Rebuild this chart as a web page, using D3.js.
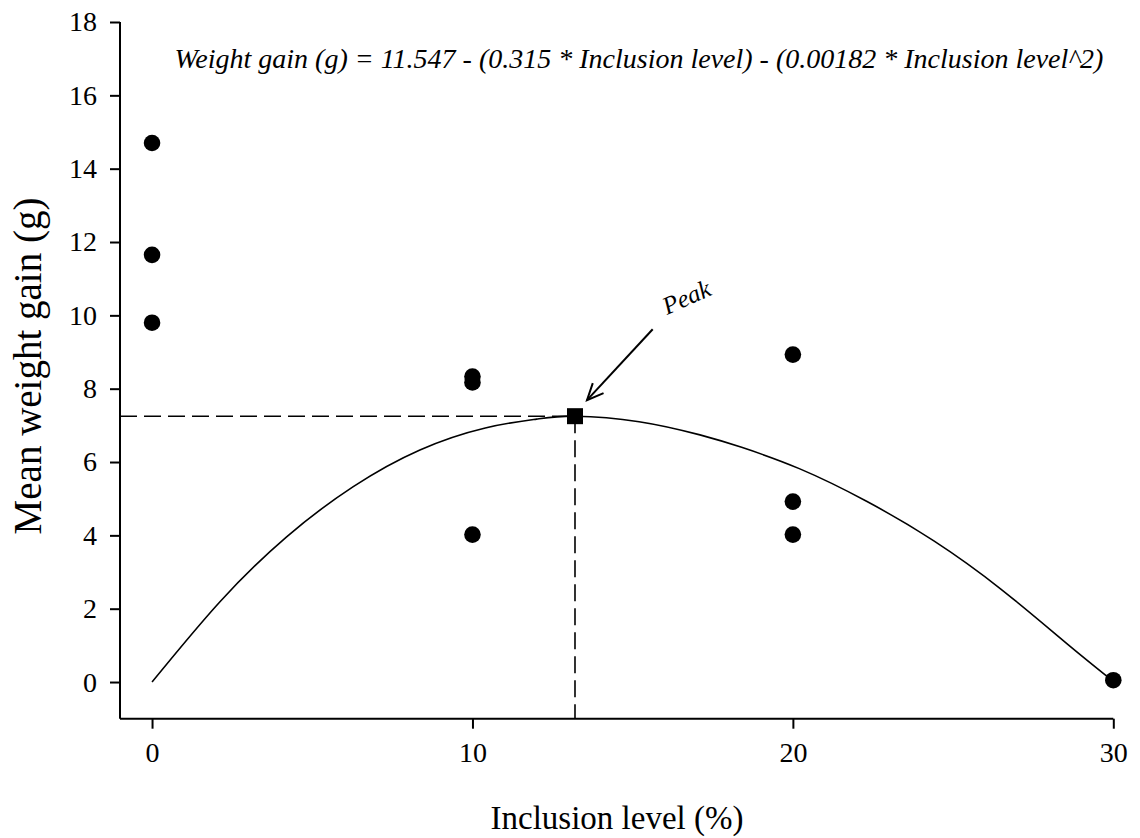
<!DOCTYPE html>
<html>
<head>
<meta charset="utf-8">
<script src="https://cdn.jsdelivr.net/npm/d3@7/dist/d3.min.js"></script>
<style>
  body { margin: 0; background: #fff; }
  svg { display: block; }
  text { font-family: "Liberation Serif", "Times New Roman", serif; fill: #000; }
</style>
</head>
<body>
<svg id="chart" width="1140" height="838"></svg>
<script>
// ---- data ----
const inclusionLevels = [0, 0, 0, 10, 10, 10, 20, 20, 20, 30];
const weightGains     = [14.7, 11.65, 9.8, 8.33, 8.17, 4.02, 8.93, 4.92, 4.02, 0.05];
const fitX = [0, 2.12, 4.2, 6.28, 8.36, 10.4, 12.0, 13.2, 15.2, 17.1, 18.4, 20.2, 22.3, 24.4, 26.5, 28.55, 30];
const fitY = [0, 2.19, 3.96, 5.33, 6.33, 6.93, 7.17, 7.25, 7.10, 6.74, 6.40, 5.82, 4.93, 3.85, 2.53, 1.05, 0.02];
const peakX = 13.2, peakY = 7.25;
const xTicks = [0, 10, 20, 30];
const yTicks = [0, 2, 4, 6, 8, 10, 12, 14, 16, 18];
const equationText = "Weight gain (g) = 11.547 - (0.315 * Inclusion level) - (0.00182 * Inclusion level^2)";
const xTitle = "Inclusion level (%)";
const yTitle = "Mean weight gain (g)";
const peakLabel = "Peak";

// ---- scales ----
const svg = d3.select("#chart");
const x = d3.scaleLinear().domain([-1, 30]).range([120, 1113.3]);
const y = d3.scaleLinear().domain([-1, 18]).range([718.7, 22]);

// axes
const xAxis = d3.axisBottom(x).tickValues(xTicks).tickSize(10).tickSizeOuter(0).tickPadding(13);
const yAxis = d3.axisLeft(y).tickValues(yTicks).tickSize(10).tickSizeOuter(0).tickPadding(13);

const gx = svg.append("g").attr("transform", `translate(0,${y(-1)})`).call(xAxis);
const gy = svg.append("g").attr("transform", `translate(${x(-1)},0)`).call(yAxis);
[gx, gy].forEach(g => {
  g.attr("font-family", null).attr("font-size", null);
  g.selectAll("path, line").attr("stroke", "#000").attr("stroke-width", 2);
  g.selectAll("text").attr("font-size", 28).style("font-size", "28px");
});
gx.select(".domain").attr("d", `M${x(-1)},0H${x(30)}`);
gy.select(".domain").attr("d", `M0,${y(-1)}V${y(18)}`);

// dashed reference lines
svg.append("line")
  .attr("x1", x(-1)).attr("x2", x(peakX)).attr("y1", y(peakY)).attr("y2", y(peakY))
  .attr("stroke", "#000").attr("stroke-width", 1.6).attr("stroke-dasharray", "17,7");
svg.append("line")
  .attr("x1", x(peakX)).attr("x2", x(peakX)).attr("y1", y(peakY)).attr("y2", y(-1))
  .attr("stroke", "#000").attr("stroke-width", 1.6).attr("stroke-dasharray", "17,7");

// fitted curve
const line = d3.line().x((d, i) => x(fitX[i])).y((d, i) => y(fitY[i])).curve(d3.curveNatural);
svg.append("path").datum(fitX).attr("d", line)
  .attr("fill", "none").attr("stroke", "#000").attr("stroke-width", 1.6);

// points
svg.append("g").selectAll("circle").data(inclusionLevels).join("circle")
  .attr("cx", (d) => x(d)).attr("cy", (d, i) => y(weightGains[i])).attr("r", 8.3).attr("fill", "#000");

// peak square
const sq = 16;
svg.append("rect").attr("x", x(peakX) - sq / 2).attr("y", y(peakY) - sq / 2)
  .attr("width", sq).attr("height", sq).attr("fill", "#000");

// arrow annotation
const ax1 = 652.7, ay1 = 329.3, ax2 = x(peakX) + 12, ay2 = y(peakY) - 16;
svg.append("line").attr("x1", ax1).attr("y1", ay1).attr("x2", ax2).attr("y2", ay2)
  .attr("stroke", "#000").attr("stroke-width", 2);
const ang = Math.atan2(ay1 - ay2, ax1 - ax2);
const hl = 18, spread = 0.42;
svg.append("path")
  .attr("d", `M${ax2 + hl * Math.cos(ang - spread)},${ay2 + hl * Math.sin(ang - spread)}L${ax2},${ay2}L${ax2 + hl * Math.cos(ang + spread)},${ay2 + hl * Math.sin(ang + spread)}`)
  .attr("fill", "none").attr("stroke", "#000").attr("stroke-width", 2);
svg.append("text").attr("transform", "translate(667,315) rotate(-24)")
  .style("font-size", "25px").style("font-style", "italic").text(peakLabel);

// equation
svg.append("text").attr("x", 639).attr("y", 68).attr("text-anchor", "middle")
  .style("font-size", "28px").style("font-style", "italic").text(equationText);

// axis titles
svg.append("text").attr("x", 617).attr("y", 829).attr("text-anchor", "middle")
  .style("font-size", "33px").text(xTitle);
svg.append("text").attr("transform", `translate(41,366) rotate(-90)`).attr("text-anchor", "middle")
  .style("font-size", "39px").text(yTitle);
</script>
</body>
</html>
